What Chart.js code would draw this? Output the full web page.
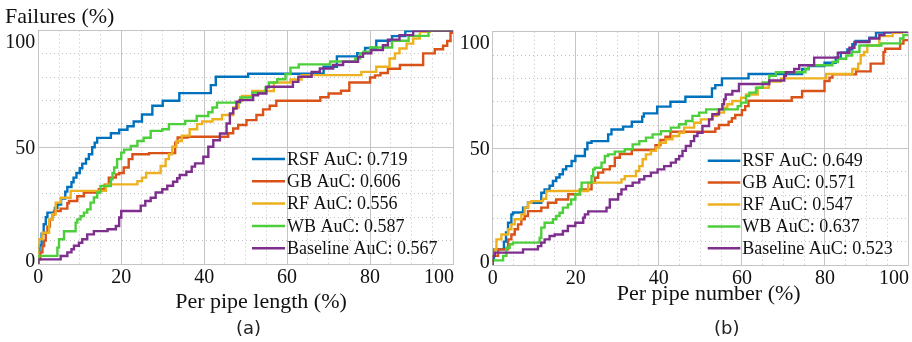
<!DOCTYPE html>
<html>
<head>
<meta charset="utf-8">
<script src="https://cdn.jsdelivr.net/npm/chart.js@4.4.1/dist/chart.umd.min.js"></script>
<style>
  html, body { margin: 0; padding: 0; background: #fff; }
  #wrap { position: relative; width: 912px; height: 342px; overflow: hidden; }
  canvas { position: absolute; top: 0; }
  #chartA { left: 0; }
  #chartB { left: 440px; }
</style>
</head>
<body>
<div id="wrap">
  <canvas id="chartA" width="470" height="342"></canvas>
  <canvas id="chartB" width="472" height="342"></canvas>
</div>
<script>
// series names and AuC values shown in the legends
const seriesNames = ['RSF', 'GB', 'RF', 'WB', 'Baseline'];
const aucLength = ['0.719', '0.606', '0.556', '0.587', '0.567'];
const aucNumber = ['0.649', '0.571', '0.547', '0.637', '0.523'];
const lineColors = ['#0072BD', '#D95319', '#EDB120', '#4DCF3C', '#7E2F8E'];

// tick labels
const xTicks = [0, 20, 40, 60, 80, 100];
const yTicks = [0, 50, 100];

// (a) per pipe length: [x where the step happens, new failures %]
const rsfLength = [[0,0],[0.3,3],[0.8,8],[1.3,13],[1.8,17],[2.2,20],[4,22],[4.6,24],[5.5,25.5],[6.5,28],[7,31],[8,33],[8.5,35],[9.2,37],[10,39],[10.6,41],[11.5,43],[12.2,45],[13,47],[13.6,50],[14.2,52],[17.5,54],[19.5,56],[21.5,57.5],[23,59],[25,61],[27.5,64],[30,67.8],[34,69.9],[41.6,73.2],[42.8,76.6],[50.6,80.2],[68.8,81.5],[72,84.5],[76.9,88.9],[78.8,90.3],[81.5,92.5],[85.3,95.6],[88.5,97.6],[93.8,99.8],[100,100]];
const gbLength = [[0,0],[0.5,2],[1,5],[1.4,7.7],[1.8,10],[2.2,13.4],[2.8,16],[3.4,19],[3.8,21],[5.4,22.7],[7,23.7],[7.4,26],[9.4,27],[11,29],[14.6,30.6],[16,32],[17,34],[18.7,37],[19.5,38.4],[20.6,39],[21.8,41.3],[22.7,44.9],[26.7,47],[33,47.5],[33.6,52],[36,54.2],[45.8,54.5],[47,56],[48.2,58],[50.2,59.5],[52.6,61.6],[54.2,63.8],[55.8,66.2],[57.4,67.8],[68,69.9],[70,71.4],[73,73],[75,74.2],[80,77.7],[81.2,79.9],[82.5,80.8],[84.3,81.8],[87.2,83.6],[92.8,85.2],[95.6,90.2],[97.6,92],[98.6,93.5],[99.4,95.5],[100,99]];
const rfLength = [[0,0],[0.1,7.7],[1,10.6],[2.6,13.4],[3.4,19],[4.2,21.3],[5.4,26.3],[7.8,28.4],[16.3,31.3],[23.9,34.1],[25,35.5],[26,37],[29.5,39],[30.7,42],[31.5,44.9],[32.3,47],[33.3,50.2],[34.6,52.7],[36.5,55],[38.3,57.7],[39.5,59.9],[42,61],[44.3,62],[47,63.8],[48.3,67],[49.1,69.9],[51.6,72],[56.8,74.1],[60.8,77.7],[63.5,79],[77.9,80.9],[81.5,82.3],[84.7,84.5],[86,88],[87.1,90.2],[88.8,92.3],[90.4,94.4],[92,96.6],[94.4,99.4],[100,100]];
const wbLength = [[0,0],[4.6,3.5],[5,7],[6.2,10.6],[9,14],[9.4,17.7],[10.2,19.1],[11,20.5],[11.8,22],[12.6,23.4],[13.4,26.3],[14.2,28.5],[15,30.6],[17.5,33.4],[17.9,36.3],[18.3,39],[19,41.3],[20,44.9],[20.7,47.7],[22.3,49],[23.9,50.6],[25.4,52.7],[27.1,54.1],[29.9,57],[31.5,57.7],[35.4,59.9],[38.2,61.3],[41,63.4],[42,65],[43.1,67],[48.7,69.1],[51.6,71.3],[54.8,73.4],[55.6,75.6],[57.6,77.7],[59.6,79.1],[60.8,81.3],[62.8,84.1],[70.4,85.5],[76.4,86.7],[77.6,88],[78.4,90.3],[80,90.9],[85.3,92.7],[89.3,95.6],[94.1,97.7],[99.3,100],[100,100]];
const baseLength = [[0,0],[5.4,2],[7,3.4],[8,5],[8.6,6.3],[9.8,7.8],[10.6,9.1],[11.8,10.6],[13.4,12.7],[16.7,14.1],[18.7,14.9],[19.5,16.3],[20,19.9],[24.7,22.7],[25.8,25],[27.1,27],[28.3,28.4],[29.9,30.6],[31.1,32],[32.5,33.5],[33.5,35.2],[34.1,36.7],[35.7,38.1],[37,39.5],[37.8,41.7],[39.8,43.1],[41,45.9],[42.2,50.2],[43.8,53],[45.4,55.9],[46.2,60.2],[47,64.5],[47.8,66.6],[48.6,69.5],[51.8,70.2],[53,72.3],[55,73],[61.4,75.9],[62.7,78],[65.9,80.2],[67.9,82.3],[71.1,83.7],[73.5,85.2],[77.1,86.6],[78.3,88.7],[80.3,90.2],[83.1,91.6],[84.3,93.7],[87.1,96.1],[90.4,98],[93.6,99.9],[100,100]];

// (b) per pipe number
const rsfNumber = [[0,0],[0.3,3.1],[2.7,6.7],[3.2,10],[3.7,13.9],[4.5,18.1],[4.9,21.7],[7.3,22.5],[8.5,24.6],[11.7,26.7],[12.5,31],[13.7,32.4],[14.5,34],[15.3,36],[16.1,37.5],[16.9,38.9],[17.7,41],[19,42.4],[19.9,44.6],[22.2,46.7],[22.8,49.6],[23.8,52.4],[27.8,53.1],[28.6,56],[31.4,58.1],[33.5,59.3],[36,61.4],[36.4,63.6],[39.6,65],[42.8,67.9],[46.4,70],[52.8,72.1],[53.6,75.7],[55.2,77.1],[61.6,80],[74.5,81.9],[76.1,84],[79.9,85.3],[82.6,86.7],[83.8,88.9],[85.4,91],[86.6,92.4],[87.4,94.6],[90.7,96],[92.3,97.4],[96.3,99.6],[100,100]];
const gbNumber = [[0,0],[1.3,3.9],[3.7,6.7],[4.5,11],[5.3,13.1],[6.1,15.3],[6.9,17.4],[7.7,19.6],[8.5,21],[11.7,23.1],[13.3,24.6],[15.3,26.7],[18.2,28.1],[21,30.3],[23.8,32.4],[24.6,35.3],[25.4,37.4],[26.6,39.6],[28.2,41],[29.4,42.4],[30.6,46],[33.5,47.6],[39.2,49.3],[40.4,51.4],[41.6,53.6],[42.8,55],[53.6,57.1],[54.5,58.5],[56.8,60],[57.6,61.4],[58.4,62.9],[60,64.3],[60.8,66.4],[61.6,68.1],[72,70.4],[74.5,71.9],[79.9,74.6],[81.1,78.9],[81.8,80.3],[87.5,81.7],[91,83],[94.1,86.3],[94.5,91.3],[98.1,92.7],[98.9,94.9],[100,96.4]];
const rfNumber = [[0,0],[0.5,3.9],[0.9,6.7],[2.1,11],[3.7,13.1],[4.5,15.3],[5.3,17.4],[6.9,19.6],[7.7,21.7],[8.5,24.6],[9.3,26.7],[12.1,27.4],[12.9,28.4],[23,31.7],[31,35.3],[31.8,36.7],[34.5,38.1],[35.3,40.3],[36.1,42.4],[36.9,45.3],[38.1,47.4],[39.3,48.9],[40.1,50.3],[41.7,52.4],[43.3,53.9],[44.9,55.3],[46.1,56.7],[48.5,58.9],[50.1,61],[52.9,62.4],[54.1,63.9],[55.7,65.3],[56.5,67.4],[57.7,68.9],[59.8,70.3],[61,71.7],[63.8,73.1],[66.5,76],[69.4,78.6],[80.3,80],[86.6,81.9],[88,84],[88.6,86.3],[89.4,89.9],[90.2,91.3],[93.1,94.1],[96.3,98.1],[98.5,99.5],[100,100]];
const wbNumber = [[0,0],[2.5,2],[3.3,3.9],[4.1,7.4],[4.9,8.9],[11.3,9.6],[11.7,11.7],[12.5,16],[14.5,18.1],[15.3,19.6],[16.1,21],[16.9,22.4],[18.1,24.6],[18.9,26],[19.9,28.1],[21,30.3],[21.4,32.4],[23.8,35.3],[24.2,38.1],[24.6,41],[26.2,41.7],[27,43.9],[27.8,46.7],[29.4,47.4],[31.8,48.6],[33.7,49.6],[35.3,51.7],[36.9,53.1],[38.5,54.6],[40.5,56],[42.9,57.4],[44.9,58.9],[46.5,60.3],[48.1,61.7],[49.7,63.9],[51.4,65.3],[59,66.7],[59.8,68.1],[61,69.6],[61.8,72.4],[63.4,73.9],[65,76],[66.6,78.3],[68.2,81.1],[75.3,82.6],[76.1,84],[81.8,85.6],[83.1,87],[85.1,88.4],[86.5,89.8],[88.3,91.3],[93.6,94.1],[98.1,95],[98.9,97.1],[100,98.6]];
const baseNumber = [[0,0],[0.5,3.9],[7.3,5.3],[10.9,6.7],[11.7,8.1],[12.5,9.6],[13.7,11],[14.9,12.4],[16.9,13.1],[18.1,14.6],[19.9,16.7],[21.8,18.1],[22.2,20.3],[23,21.7],[27.4,23],[28.2,24.6],[30.2,28.1],[31,30.3],[32.1,32.4],[33.7,33.9],[35.3,35.3],[36.5,36.7],[38.1,38.1],[39.7,39.6],[41.3,41],[42.9,42.4],[44.1,43.9],[44.9,45.3],[45.7,46.7],[46.5,48.9],[47.7,51],[48.5,53.1],[49.3,55.3],[50.5,56.7],[52.1,59.6],[52.9,62.4],[54.5,64.6],[55.3,66.7],[55.7,68.9],[56.1,71],[57.7,73.1],[59.3,74.6],[66.6,77.6],[70.2,79.1],[70.6,81.1],[72.6,82.6],[73.8,84],[77.4,85.6],[83.1,88.9],[85.9,91],[87.1,93.1],[90.7,95.6],[93.1,97.1],[94.3,98.6],[95.9,100],[100,100]];

const SERIF = '"Liberation Serif", "Times New Roman", serif';
const MAJOR = '#c4c4c4';
const MINOR = '#c0c0c0';

Chart.defaults.font.family = SERIF;

// draws tick labels, titles, panel label and the in-plot legend
function decorPlugin(o) {
    return {
        id: 'decor',
        afterDraw(chart) {
            const ctx = chart.ctx;
            const area = chart.chartArea;
            const xs = chart.scales.x;
            const ys = chart.scales.y;
            ctx.save();
            ctx.fillStyle = '#111';
            ctx.font = '20px ' + SERIF;

            // y tick labels, end ones kept inside the plot height
            ctx.textAlign = 'right';
            ctx.textBaseline = 'middle';
            yTicks.forEach(v => {
                let py = ys.getPixelForValue(v);
                py = Math.min(Math.max(py, area.top + 11), area.bottom - 3.5);
                ctx.fillText(String(v), area.left - 3, py + 1);
            });

            // x tick labels, last one pulled back inside the right edge
            ctx.textAlign = 'center';
            xTicks.forEach(v => {
                const label = String(v);
                const w = ctx.measureText(label).width;
                const px = Math.min(xs.getPixelForValue(v), area.right - w / 2 + 1);
                ctx.fillText(label, px, area.bottom + 14);
            });

            // axis titles
            ctx.font = '22px ' + SERIF;
            ctx.textBaseline = 'alphabetic';
            if (o.yTitle) {
                ctx.textAlign = 'left';
                ctx.fillText(o.yTitle, 5, 23);
            }
            ctx.textAlign = 'center';
            ctx.fillText(o.xTitle, o.xTitleX, o.xTitleY);

            // panel label
            ctx.font = '18px "DejaVu Sans", sans-serif';
            ctx.textBaseline = 'middle';
            ctx.fillStyle = '#222';
            ctx.fillText(o.panel, o.panelX, 329);

            // legend
            ctx.font = '18px ' + SERIF;
            ctx.textAlign = 'left';
            ctx.fillStyle = '#111';
            seriesNames.forEach((name, i) => {
                const y = o.legY + i * o.legDy;
                ctx.strokeStyle = lineColors[i];
                ctx.lineWidth = 2.5;
                ctx.beginPath();
                ctx.moveTo(o.legX0, y);
                ctx.lineTo(o.legX1, y);
                ctx.stroke();
                ctx.fillText(name + ' AuC: ' + o.auc[i], o.legX1 + 2, y + 1);
            });
            ctx.restore();
        }
    };
}

function makeChart(id, series, o) {
    const datasets = series.map((pts, i) => ({
        label: seriesNames[i],
        data: pts.map(([x, y]) => ({ x, y })),
        borderColor: lineColors[i],
        borderWidth: 2.4,
        pointRadius: 0,
        stepped: 'after',
        fill: false,
        order: series.length - i
    }));

    return new Chart(document.getElementById(id), {
        type: 'line',
        data: { datasets },
        options: {
            responsive: false,
            animation: false,
            devicePixelRatio: 1,
            layout: { padding: { left: 0, right: o.padRight, top: o.padTop, bottom: 0 } },
            plugins: { legend: { display: false }, tooltip: { enabled: false } },
            scales: {
                xm: {
                    axis: 'x', type: 'linear', position: 'bottom', min: 0, max: 100,
                    ticks: { stepSize: 5, display: false },
                    grid: { color: c => (c.tick && c.tick.value % 20 === 0) ? 'rgba(0,0,0,0)' : MINOR, drawTicks: false },
                    border: { display: false, dash: [1, 3] },
                    afterFit: s => { s.height = 0; }
                },
                x: {
                    type: 'linear', position: 'bottom', min: 0, max: 100,
                    ticks: { stepSize: 20, display: false },
                    grid: { color: MAJOR, drawTicks: false },
                    border: { color: MAJOR },
                    afterFit: s => { s.height = o.xAxisH; }
                },
                ym: {
                    axis: 'y', type: 'linear', position: 'left', min: 0, max: 100,
                    ticks: { stepSize: 10, display: false },
                    grid: { color: c => (c.tick && c.tick.value % 50 === 0) ? 'rgba(0,0,0,0)' : MINOR, drawTicks: false },
                    border: { display: false, dash: [1, 3] },
                    afterFit: s => { s.width = 0; }
                },
                y: {
                    type: 'linear', position: 'left', min: 0, max: 100,
                    ticks: { stepSize: 50, display: false },
                    grid: { color: MAJOR, drawTicks: false },
                    border: { color: MAJOR },
                    afterFit: s => { s.width = o.yAxisW; }
                }
            }
        },
        plugins: [decorPlugin(o)]
    });
}

makeChart('chartA', [rsfLength, gbLength, rfLength, wbLength, baseLength], {
    yAxisW: 38.3, padRight: 17, padTop: 30.5, xAxisH: 78,
    yTitle: 'Failures (%)',
    xTitle: 'Per pipe length (%)', xTitleX: 261, xTitleY: 308,
    panel: '(a)', panelX: 248.5,
    legX0: 252, legX1: 285, legY: 159, legDy: 22.3,
    auc: aucLength
});

makeChart('chartB', [rsfNumber, gbNumber, rfNumber, wbNumber, baseNumber], {
    yAxisW: 52.7, padRight: 4, padTop: 31.7, xAxisH: 77,
    yTitle: null,
    xTitle: 'Per pipe number (%)', xTitleX: 268.7, xTitleY: 300,
    panel: '(b)', panelX: 286.8,
    legX0: 267.7, legX1: 300.3, legY: 160.7, legDy: 21.9,
    auc: aucNumber
});
</script>
</body>
</html>
